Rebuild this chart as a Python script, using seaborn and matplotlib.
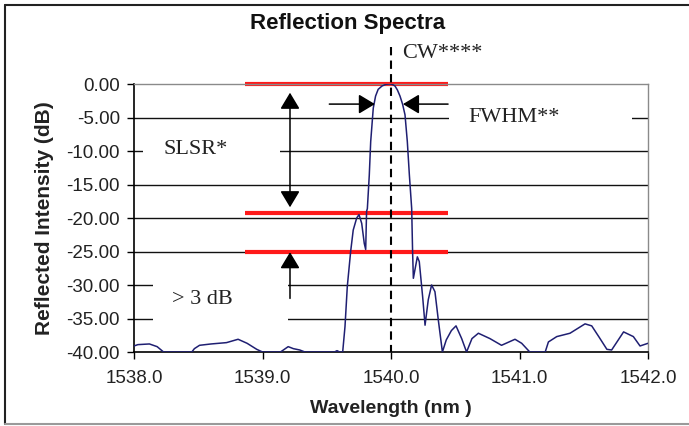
import matplotlib.pyplot as plt
import seaborn as sns
import pandas as pd
from matplotlib.patches import Rectangle
from matplotlib.lines import Line2D

# spectrum (nm, dB)
wavelength = [1538.00, 1538.03, 1538.12, 1538.18, 1538.23, 1538.45, 1538.47, 1538.51,
              1538.60, 1538.72, 1538.81, 1538.88, 1538.955, 1539.00, 1539.14, 1539.20,
              1539.24, 1539.29, 1539.33, 1539.56, 1539.58, 1539.60, 1539.624, 1539.642,
              1539.66, 1539.686, 1539.706, 1539.733, 1539.751, 1539.772, 1539.792, 1539.803,
              1539.810, 1539.816, 1539.831, 1539.842, 1539.862, 1539.880, 1539.90, 1539.93,
              1539.96, 1539.987, 1540.01, 1540.031, 1540.05, 1540.07, 1540.09, 1540.109,
              1540.127, 1540.143, 1540.161, 1540.168,
              1540.174, 1540.205, 1540.22, 1540.246, 1540.265, 1540.29, 1540.316, 1540.342,
              1540.368, 1540.40, 1540.43, 1540.47, 1540.506, 1540.55, 1540.588, 1540.63,
              1540.68, 1540.77, 1540.86, 1540.965, 1541.017, 1541.08, 1541.20, 1541.225,
              1541.29, 1541.393, 1541.51, 1541.562, 1541.62, 1541.68, 1541.717, 1541.81,
              1541.886, 1541.938, 1542.0]
intensity = [-39.1, -38.9, -38.8, -39.2, -40.0, -40.0, -39.5, -39.0,
             -38.8, -38.6, -38.1, -38.7, -39.6, -40.0, -40.0, -39.2,
             -39.5, -39.7, -40.0, -40.0, -39.8, -40.0, -40.0, -36.2,
             -30.2, -25.0, -21.8, -20.0, -19.5, -20.8, -23.8, -24.7,
             -19.0, -18.6, -13.6, -8.6, -3.6, -1.8, -0.8, -0.3,
             -0.05, 0.0, -0.05, -0.3, -0.9, -1.8, -3.0, -4.6,
             -8.6, -13.6, -18.6, -25.0,
             -29.0, -25.8, -26.5, -31.7, -36.0, -32.2, -30.0, -31.0,
             -35.2, -40.0, -38.2, -36.8, -36.1, -38.0, -40.0, -38.0,
             -37.2, -38.0, -39.0, -38.1, -38.7, -40.0, -40.0, -38.5,
             -37.7, -37.2, -35.8, -36.1, -37.8, -39.6, -39.7, -37.0,
             -37.7, -39.1, -38.7]

y_ticks = [0, -5, -10, -15, -20, -25, -30, -35, -40]
x_ticks = [1538.0, 1539.0, 1540.0, 1541.0, 1542.0]
center_wl = 1540.0
red_levels = [0.0, -19.3, -25.0]
red_span = (1538.86, 1540.44)

sns.set_style('white')
plt.rcParams['font.family'] = ['Liberation Sans', 'DejaVu Sans']
serif = ['Liberation Serif', 'DejaVu Serif']

fig = plt.figure(figsize=(6.89, 4.26), dpi=100)
ax = fig.add_axes([134 / 689, 1 - 352 / 426, (648 - 134) / 689, (352 - 84) / 426])

df = pd.DataFrame({'wl': wavelength, 'db': intensity})
sns.lineplot(data=df, x='wl', y='db', color='#1f1f72', lw=1.1, ax=ax,
             estimator=None, sort=False, zorder=3)

ax.set_xlim(1538, 1542)
ax.set_ylim(-40, 0)

for y in y_ticks[1:-1]:
    ax.axhline(y, color='#111111', lw=1.0, zorder=1)

# white text boxes that hide the grid
for x0, x1, y0, y1 in [(1538.07, 1539.14, -13.5, -6.5),
                       (1538.15, 1539.20, -37.5, -26.5),
                       (1540.45, 1541.875, -8.5, -1.5)]:
    ax.add_patch(Rectangle((x0, y0), x1 - x0, y1 - y0, facecolor='white',
                           edgecolor='none', zorder=1.5))

for lvl in red_levels:
    ax.plot(red_span, [lvl, lvl], color='#ff1a1a', lw=3, zorder=2.5,
            solid_capstyle='butt', clip_on=False)

ax.plot([center_wl, center_wl], [5.5, -40], color='black', lw=1.5,
        ls=(0, (4, 2.5)), zorder=4, clip_on=False)

arrow_kw = dict(color='black', lw=1.1, shrinkA=0, shrinkB=0, mutation_scale=10)
head = ',head_length=1.0,head_width=0.6'
ax.annotate('', xy=(1539.214, -18.4), xytext=(1539.214, -1.3),
            arrowprops=dict(arrowstyle='<|-|>' + head, **arrow_kw))
ax.annotate('', xy=(1539.214, -25.1), xytext=(1539.214, -32.0),
            arrowprops=dict(arrowstyle='-|>' + head, **arrow_kw))
ax.annotate('', xy=(1539.875, -3.0), xytext=(1539.52, -3.0),
            arrowprops=dict(arrowstyle='-|>' + head, **arrow_kw))
ax.annotate('', xy=(1540.093, -3.0), xytext=(1540.444, -3.0),
            arrowprops=dict(arrowstyle='-|>' + head, **arrow_kw))

ax.text(1540.086, 4.6, 'CW****', family=serif, fontsize=16, ha='left', va='center',
        color='#222222', clip_on=False)
ax.text(1540.60, -5.0, 'FWHM**', family=serif, fontsize=16, ha='left', va='center',
        color='#222222', zorder=5)
ax.text(1538.226, -9.85, 'SLSR*', family=serif, fontsize=16, ha='left', va='center',
        color='#222222', zorder=5)
ax.text(1538.293, -32.2, '> 3 dB', family=serif, fontsize=16, ha='left', va='center',
        color='#222222', zorder=5)

ax.set_yticks(y_ticks)
ax.set_yticklabels([f'{v:.2f}' for v in y_ticks])
ax.set_xticks(x_ticks)
ax.set_xticklabels([f'{v:.1f}' for v in x_ticks])
ax.tick_params(left=True, bottom=True, direction='out', length=5, width=1,
               color='black', labelsize=13.5, labelcolor='#222222')
ax.tick_params(axis='y', pad=5)
ax.tick_params(axis='x', pad=8)

for side in ['left', 'bottom']:
    ax.spines[side].set_color('black')
    ax.spines[side].set_linewidth(1.2)
for side in ['top', 'right']:
    ax.spines[side].set_color('#8a8a8a')
    ax.spines[side].set_linewidth(1.0)

ax.set_xlabel('Wavelength (nm )', fontsize=14, fontweight='bold', va='center', color='#222222')
ax.xaxis.set_label_coords(0.5, -0.21)
ax.set_ylabel('Reflected Intensity (dB)', fontsize=15, fontweight='bold', va='center',
              color='#222222')
ax.yaxis.set_label_coords(-0.175, 0.5)

fig.text(348 / 689, 1 - 23 / 426, 'Reflection Spectra', fontsize=16, fontweight='bold',
         ha='center', va='center', color='#111111')

# outer frame
fig.add_artist(Line2D([5 / 689, 5 / 689], [2 / 426, 1 - 5 / 426], color='#222222', lw=1.5))
fig.add_artist(Line2D([5 / 689, 1], [1 - 5 / 426, 1 - 5 / 426], color='#222222', lw=1.5))
fig.add_artist(Line2D([5 / 689, 1], [2 / 426, 2 / 426], color='#9a9a9a', lw=1.5))

fig.savefig('out.png', dpi=100)
